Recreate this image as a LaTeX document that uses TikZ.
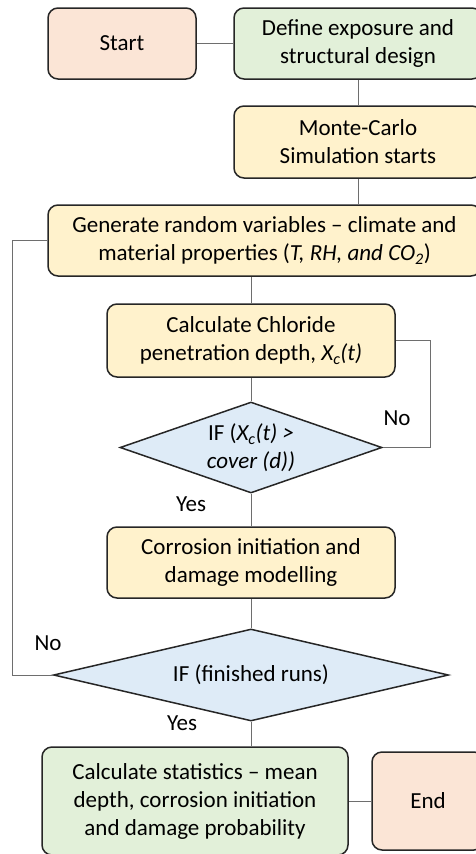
\documentclass[tikz,border=0pt]{standalone}
\usepackage{fontspec}
\setmainfont{Carlito}
\usetikzlibrary{shapes.geometric}
\definecolor{peach}{HTML}{FBE5D6}
\definecolor{mint}{HTML}{E2F0D9}
\definecolor{cream}{HTML}{FFF2CC}
\definecolor{ice}{HTML}{DEEBF7}
\definecolor{edgecol}{HTML}{262626}
\definecolor{wirecol}{HTML}{6E6E6E}
\begin{document}
\begin{tikzpicture}[x=1pt,y=-1pt,
  txt/.style={font=\fontsize{23}{28}\selectfont},
  box/.style={txt, draw=edgecol, line width=1.5pt, rounded corners=10pt, align=center, inner sep=0pt},
  dec/.style={txt, draw=edgecol, line width=1.5pt, diamond, fill=ice, align=center, inner sep=0pt},
  wire/.style={draw=wirecol, line width=1pt},
  lab/.style={txt, inner sep=0pt}]
\useasboundingbox (0,0) rectangle (476,854);
\clip (0,0) rectangle (476,854);

\node[box, fill=peach, minimum width=148pt, minimum height=71pt] (start) at (122,43.5) {Start};
\node[box, fill=mint, minimum width=248pt, minimum height=71pt] (def) at (358,43.5) {Define exposure and\\structural design};
\node[box, fill=cream, minimum width=248pt, minimum height=72pt] (mc) at (358,142) {Monte-Carlo\\Simulation starts};
\node[box, fill=cream, minimum width=433pt, minimum height=71pt] (gen) at (264.5,240.5) {Generate random variables – climate and\\material properties (\textit{T, RH, and CO\textsubscript{2}})};
\node[box, fill=cream, minimum width=288pt, minimum height=73pt] (chl) at (251,340.5) {Calculate Chloride\\penetration depth, \textit{X\textsubscript{c}(t)}};
\node[dec, aspect=2.88, minimum width=262pt, minimum height=91pt] (d1) at (251,447.5) {IF (\textit{X\textsubscript{c}(t) >}\\\textit{cover (d))}};
\node[box, fill=cream, minimum width=288pt, minimum height=71pt] (cor) at (251,562.5) {Corrosion initiation and\\damage modelling};
\node[dec, aspect=4.29, minimum width=395pt, minimum height=92pt] (d2) at (251,675) {IF (finished runs)};
\node[box, fill=mint, minimum width=306pt, minimum height=108pt] (stats) at (195,801) {Calculate statistics – mean\\depth, corrosion initiation\\and damage probability};
\node[box, fill=peach, minimum width=112pt, minimum height=98pt] (fin) at (428,801) {End};

\node[lab] (no1) at (397,418) {No};
\node[lab] (yes1) at (191,504) {Yes};
\node[lab] (no2) at (48,643) {No};
\node[lab] (yes2) at (182,723) {Yes};

\draw[wire] (start) -- (def);
\draw[wire] (def) -- (mc);
\draw[wire] (mc.south) -- (mc.south |- gen.north);
\draw[wire] (gen.south -| chl.north) -- (chl.north);
\draw[wire] (chl) -- (d1);
\draw[wire] (chl.east) -- ++(35,0) |- (d1.east);
\draw[wire] (d1) -- (cor);
\draw[wire] (cor) -- (d2);
\draw[wire] (d2.west) -- ++(-40,0) |- (gen.west);
\draw[wire] (d2.south) -- (d2.south |- stats.north);
\draw[wire] (stats) -- (fin);
\end{tikzpicture}
\end{document}
